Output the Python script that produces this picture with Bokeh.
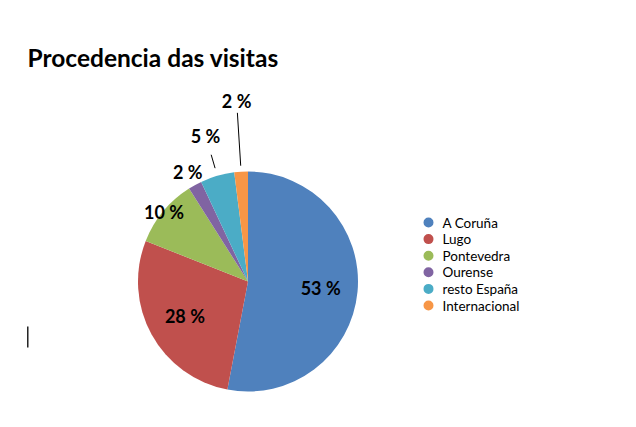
import math
from bokeh.plotting import figure
from bokeh.models import Range1d, ColumnDataSource
from bokeh.core.properties import value
from bokeh.embed import file_html
from bokeh.resources import INLINE

# ---- data ----
categories = ["A Coruña", "Lugo", "Pontevedra", "Ourense", "resto España", "Internacional"]
percent = [53, 28, 10, 2, 5, 2]
labels = ["53 %", "28 %", "10 %", "2 %", "5 %", "2 %"]
colors = ["#4F81BD", "#C0504D", "#9BBB59", "#8064A2", "#4BACC6", "#F79646"]
title = "Procedencia das visitas"

# ---- layout (styles / placement) ----
W, H = 620, 411
IMG_H = 427
cx, cy_img, R = 247.5, 281.0, 110.0
label_r = [73, 72, 109, 125, 152, 181]
leader = {4: (118, 132), 5: (116, 169)}

def Y(img_y):
    return IMG_H - img_y

p = figure(width=W, height=H, output_backend="svg", toolbar_location=None,
           x_range=Range1d(0, W), y_range=Range1d(IMG_H - H, IMG_H),
           min_border=0, outline_line_color=None)
p.axis.visible = False
p.grid.visible = False
p.background_fill_color = "white"
p.border_fill_color = "white"

total = float(sum(percent))
starts, ends, mids = [], [], []
cum = 0.0
for v in percent:
    a0 = math.pi / 2 - 2 * math.pi * cum / total
    cum += v
    a1 = math.pi / 2 - 2 * math.pi * cum / total
    starts.append(a0)
    ends.append(a1)
    mids.append((a0 + a1) / 2)

src = ColumnDataSource(dict(x=[cx] * len(percent), y=[Y(cy_img)] * len(percent),
                            start=starts, end=ends, color=colors))
p.wedge(x="x", y="y", radius=R, start_angle="start", end_angle="end",
        direction="clock", fill_color="color", line_color=None, source=src)

# data labels
lx = [cx + r * math.cos(m) for r, m in zip(label_r, mids)]
ly = [Y(cy_img) + r * math.sin(m) for r, m in zip(label_r, mids)]
p.text(x=lx, y=ly, text=labels, text_font=value("Lato"), text_font_style="bold",
       text_font_size="18px", text_align="center", text_baseline="middle",
       text_color="black")

# leader lines
for i, (r0, r1) in leader.items():
    m = mids[i]
    p.segment(x0=[cx + r0 * math.cos(m)], y0=[Y(cy_img) + r0 * math.sin(m)],
              x1=[cx + r1 * math.cos(m)], y1=[Y(cy_img) + r1 * math.sin(m)],
              line_color="black", line_width=1)

# title
p.text(x=[27], y=[Y(57)], text=[title], text_font=value("Lato"),
       text_font_style="bold", text_font_size="24.5px", text_baseline="alphabetic",
       text_color="black")

# legend (manual)
leg_x, leg_y0, leg_dy = 428, 222, 16.6
ly_leg = [Y(leg_y0 + i * leg_dy) for i in range(len(categories))]
p.scatter(x=[leg_x] * len(categories), y=ly_leg, size=10, marker="circle",
          fill_color=colors, line_color=None)
p.text(x=[leg_x + 14] * len(categories), y=ly_leg, text=categories,
       text_font=value("Lato"), text_font_size="13.5px", text_baseline="middle",
       text_color="black")

# stray cursor mark
p.segment(x0=[27.3], y0=[Y(326)], x1=[27.3], y1=[Y(347)], line_color="black", line_width=1.3)

open("out.html", "w").write(file_html(p, INLINE))
